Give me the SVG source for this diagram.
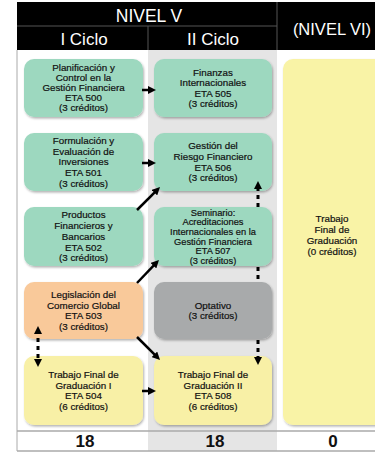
<svg xmlns="http://www.w3.org/2000/svg" width="375" height="456" viewBox="0 0 375 456">
<style>
.hd{font-family:"Liberation Sans",Arial,sans-serif;fill:#fff;text-anchor:middle}
.t{font-family:"Liberation Sans",Arial,sans-serif;font-size:9.8px;fill:#111;stroke:#111;stroke-width:0.2;text-anchor:middle}
.ts{font-family:"Liberation Sans",Arial,sans-serif;font-size:9.3px;fill:#111;stroke:#111;stroke-width:0.2;text-anchor:middle}
.tot{font-family:"Liberation Sans",Arial,sans-serif;font-size:17px;font-weight:bold;fill:#111;text-anchor:middle}
.g{fill:#9dd8bf}
.o{fill:#f9c99a}
.gr{fill:#a8aaab}
.y{fill:#f8f0a6}
.box{filter:url(#sh)}
.ar{stroke:#000;stroke-width:2.5;fill:none;marker-end:url(#ah)}
.dt{stroke:#000;stroke-width:3;fill:none;stroke-dasharray:4 4}
.sep{stroke:#555;stroke-width:1}
</style>
<defs>
<filter id="sh" x="-10%" y="-10%" width="125%" height="130%">
<feDropShadow dx="1" dy="1.5" stdDeviation="1.3" flood-color="#000" flood-opacity="0.3"/>
</filter>
<marker id="ah" markerUnits="userSpaceOnUse" markerWidth="8" markerHeight="8" refX="4" refY="4" orient="auto-start-reverse">
<path d="M0,0 L8,4 L0,8 z" fill="#000"/>
</marker>
</defs>
<g id="table">
<rect x="0" y="0" width="375" height="456" fill="#fff"/>
<rect x="148" y="50" width="129" height="401" fill="#e5e5e5"/>
<rect x="17" y="2" width="358" height="48" fill="#000"/>
<line class="sep" x1="17" y1="26" x2="277" y2="26"/>
<line class="sep" x1="148" y1="26" x2="148" y2="50"/>
<line class="sep" x1="277" y1="2" x2="277" y2="50"/>
<line x1="17" y1="50" x2="17" y2="451" stroke="#aaa" stroke-width="1"/>
<line x1="17" y1="431" x2="375" y2="431" stroke="#aaa" stroke-width="1.5"/>
<line x1="17" y1="451" x2="375" y2="451" stroke="#aaa" stroke-width="1.5"/>
<text class="hd" x="149" y="22" font-size="17.5">NIVEL V</text>
<text class="hd" x="84" y="45" font-size="17">I Ciclo</text>
<text class="hd" x="213" y="45" font-size="17">II Ciclo</text>
<text class="hd" x="332" y="35" font-size="16.5">(NIVEL VI)</text>
<text class="tot" x="85" y="447">18</text>
<text class="tot" x="215" y="447">18</text>
<text class="tot" x="333" y="447">0</text>
</g>
<g id="n500"><rect class="g box" x="24" y="59" width="119" height="58" rx="10"/>
<text class="t" x="83.5" y="70.5"><tspan x="83.5">Planificación y</tspan><tspan x="83.5" dy="10.2">Control en la</tspan><tspan x="83.5" dy="10.2">Gestión Financiera</tspan><tspan x="83.5" dy="10.2">ETA 500</tspan><tspan x="83.5" dy="10.2">(3 créditos)</tspan></text></g>
<g id="n505"><rect class="g box" x="154" y="59" width="118" height="58" rx="10"/>
<text class="t" x="213" y="75.5"><tspan x="213">Finanzas</tspan><tspan x="213" dy="10.5">Internacionales</tspan><tspan x="213" dy="10.5">ETA 505</tspan><tspan x="213" dy="10.5">(3 créditos)</tspan></text></g>
<g id="n501"><rect class="g box" x="24" y="133" width="119" height="58" rx="10"/>
<text class="t" x="83.5" y="143.9"><tspan x="83.5">Formulación y</tspan><tspan x="83.5" dy="10.7">Evaluación de</tspan><tspan x="83.5" dy="10.7">Inversiones</tspan><tspan x="83.5" dy="10.7">ETA 501</tspan><tspan x="83.5" dy="10.7">(3 créditos)</tspan></text></g>
<g id="n506"><rect class="g box" x="154" y="133" width="118" height="58" rx="10"/>
<text class="t" x="213" y="149.3"><tspan x="213">Gestión del</tspan><tspan x="213" dy="10.7">Riesgo Financiero</tspan><tspan x="213" dy="10.7">ETA 506</tspan><tspan x="213" dy="10.7">(3 créditos)</tspan></text></g>
<g id="n502"><rect class="g box" x="24" y="207" width="119" height="59" rx="10"/>
<text class="t" x="83.5" y="218.4"><tspan x="83.5">Productos</tspan><tspan x="83.5" dy="10.7">Financieros y</tspan><tspan x="83.5" dy="10.7">Bancarios</tspan><tspan x="83.5" dy="10.7">ETA 502</tspan><tspan x="83.5" dy="10.7">(3 créditos)</tspan></text></g>
<g id="n507"><rect class="g box" x="154" y="207" width="118" height="59" rx="10"/>
<text class="ts" x="213" y="215.7"><tspan x="213">Seminario:</tspan><tspan x="213" dy="9.6">Acreditaciones</tspan><tspan x="213" dy="9.6">Internacionales en la</tspan><tspan x="213" dy="9.6">Gestión Financiera</tspan><tspan x="213" dy="9.6">ETA 507</tspan><tspan x="213" dy="9.6">(3 créditos)</tspan></text></g>
<g id="n503"><rect class="o box" x="24" y="282" width="119" height="57" rx="10"/>
<text class="t" x="83.5" y="297.8"><tspan x="83.5">Legislación del</tspan><tspan x="83.5" dy="10.8">Comercio Global</tspan><tspan x="83.5" dy="10.8">ETA 503</tspan><tspan x="83.5" dy="10.8">(3 créditos)</tspan></text></g>
<g id="nopt"><rect class="gr box" x="154" y="282" width="118" height="57" rx="10"/>
<text class="t" x="213" y="308.6"><tspan x="213">Optativo</tspan><tspan x="213" dy="10.8">(3 créditos)</tspan></text></g>
<g id="n504"><rect class="y box" x="24" y="356" width="119" height="69" rx="10"/>
<text class="t" x="83.5" y="377.8"><tspan x="83.5">Trabajo Final de</tspan><tspan x="83.5" dy="10.8">Graduación I</tspan><tspan x="83.5" dy="10.8">ETA 504</tspan><tspan x="83.5" dy="10.8">(6 créditos)</tspan></text></g>
<g id="n508"><rect class="y box" x="154" y="356" width="118" height="69" rx="10"/>
<text class="t" x="213" y="377.8"><tspan x="213">Trabajo Final de</tspan><tspan x="213" dy="10.8">Graduación II</tspan><tspan x="213" dy="10.8">ETA 508</tspan><tspan x="213" dy="10.8">(6 créditos)</tspan></text></g>
<g id="nvi"><rect class="box" x="283" y="59" width="104" height="366" rx="10" fill="#f9f3a6"/>
<text class="t" x="332" y="222"><tspan x="332">Trabajo</tspan><tspan x="332" dy="11">Final de</tspan><tspan x="332" dy="11">Graduación</tspan><tspan x="332" dy="11">(0 créditos)</tspan></text></g>
<g id="connectors">
<line class="ar" x1="142" y1="90" x2="152" y2="90"/>
<line class="ar" x1="142" y1="163" x2="152" y2="163"/>
<line class="ar" x1="142" y1="391" x2="152" y2="391"/>
<line class="ar" x1="137" y1="210" x2="157.2" y2="189.8"/>
<line class="ar" x1="137" y1="283" x2="156.2" y2="262.8"/>
<line class="ar" x1="137" y1="337" x2="157.2" y2="357.2"/>
<line class="dt" x1="258" y1="207" x2="258" y2="185" marker-end="url(#ah)"/>
<line class="dt" x1="258" y1="267" x2="258" y2="282"/>
<line class="dt" x1="258" y1="340" x2="258" y2="361" marker-end="url(#ah)"/>
<line class="dt" x1="38" y1="330" x2="38" y2="363" marker-start="url(#ah)" marker-end="url(#ah)"/>
</g>
</svg>
